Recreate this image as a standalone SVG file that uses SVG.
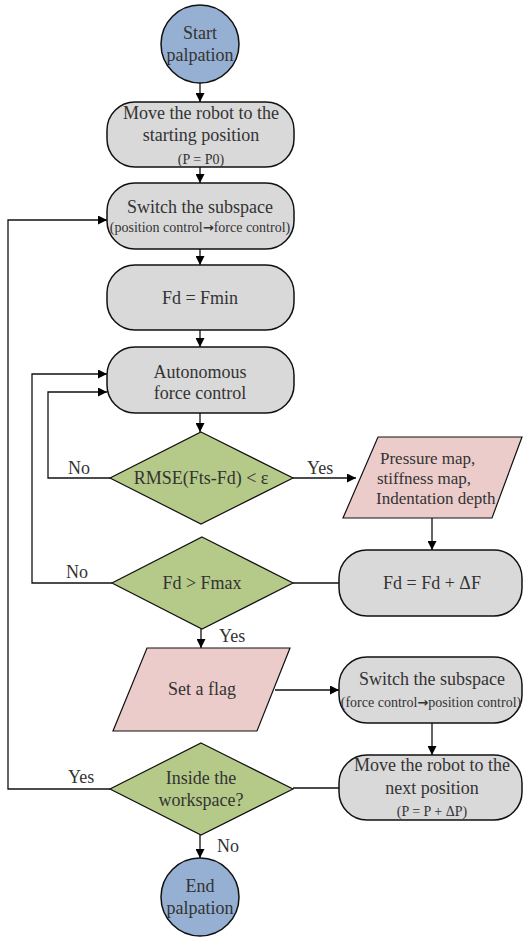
<svg xmlns="http://www.w3.org/2000/svg" width="528" height="940" viewBox="0 0 528 940" font-family="Liberation Serif, Times New Roman, serif">
<defs>
<marker id="ah" viewBox="0 0 10 10" refX="10" refY="5" markerWidth="9" markerHeight="9" markerUnits="userSpaceOnUse" orient="auto"><path d="M0,0 L10,5 L0,10 z" fill="#000"/></marker>
<style>
.t{font-family:'Liberation Serif','Times New Roman',serif;font-size:18px;fill:#333;text-anchor:middle}
.p{font-family:'Liberation Serif','Times New Roman',serif;font-size:17px;fill:#333}
.s{font-size:14px}
.m{font-size:14px}
.ar{font-family:'DejaVu Sans',sans-serif;font-weight:bold;font-size:13px}
.lb{font-family:'Liberation Serif','Times New Roman',serif;font-size:18px;fill:#333}
.circ{fill:#95b0d2;stroke:#111;stroke-width:1.5}
.box{fill:#d9d9d9;stroke:#111;stroke-width:1.5}
.dia{fill:#b5ca88;stroke:#111;stroke-width:1.2}
.par{fill:#ebcccb;stroke:#111;stroke-width:1.2}
.c{fill:none;stroke:#111;stroke-width:1.3}
.ca{fill:none;stroke:#111;stroke-width:1.3;marker-end:url(#ah)}
</style>
</defs>
<rect width="528" height="940" fill="#fff"/>
<g id="connectors">
<path class="ca" d="M200,83 V102"/>
<path class="ca" d="M200,167 V183"/>
<path class="ca" d="M200,249 V265"/>
<path class="ca" d="M200,330 V347"/>
<path class="ca" d="M200,413 V432"/>
<path class="ca" d="M110,478 H48 V392 H107"/>
<path class="ca" d="M293,478 H356"/>
<path class="ca" d="M432,518 V550"/>
<path class="c" d="M339,583 H293"/>
<path class="ca" d="M112,583 H32 V374 H107"/>
<path class="ca" d="M201,629 V648"/>
<path class="ca" d="M275,690 H339"/>
<path class="ca" d="M432,723 V755"/>
<path class="c" d="M339,788 H293"/>
<path class="ca" d="M110,789 H8 V220 H107"/>
<path class="ca" d="M200,835 V858"/>
<text class="lb" x="68" y="474">No</text>
<text class="lb" x="307" y="474">Yes</text>
<text class="lb" x="66" y="578">No</text>
<text class="lb" x="219" y="642">Yes</text>
<text class="lb" x="68" y="783">Yes</text>
<text class="lb" x="217" y="852">No</text>
</g>
<g id="start">
<circle class="circ" cx="200" cy="44" r="39"/>
<text class="t" x="200" y="39">Start</text>
<text class="t" x="200" y="61">palpation</text>
</g>
<g id="move-start">
<rect class="box" x="107" y="102" width="187" height="65" rx="28"/>
<text class="t" x="201" y="119">Move the robot to the</text>
<text class="t" x="201" y="141">starting position</text>
<text class="t s" x="201" y="164">(P = P0)</text>
</g>
<g id="switch1">
<rect class="box" x="107" y="183" width="187" height="66" rx="28"/>
<text class="t" x="200" y="213">Switch the subspace</text>
<text class="t m" x="200" y="232">(position control<tspan class="ar">→</tspan>force control)</text>
</g>
<g id="fdmin">
<rect class="box" x="107" y="265" width="187" height="65" rx="28"/>
<text class="t" x="200" y="304">Fd = Fmin</text>
</g>
<g id="afc">
<rect class="box" x="107" y="347" width="187" height="66" rx="28"/>
<text class="t" x="200" y="378">Autonomous</text>
<text class="t" x="200" y="399">force control</text>
</g>
<g id="rmse">
<path class="dia" d="M201,432 L293,478 L201,524 L110,478 z"/>
<text class="t" x="201" y="484">RMSE(Fts-Fd) &lt; ε</text>
</g>
<g id="maps">
<path class="par" d="M378,437 H522 L492,518 H343 z"/>
<text class="p" x="380" y="464">Pressure map,</text>
<text class="p" x="377" y="484">stiffness map,</text>
<text class="p" x="376" y="504">Indentation depth</text>
</g>
<g id="fdinc">
<rect class="box" x="339" y="550" width="183" height="66" rx="28"/>
<text class="t" x="432" y="589">Fd = Fd + ΔF</text>
</g>
<g id="fdmax">
<path class="dia" d="M202,537 L293,583 L202,629 L112,583 z"/>
<text class="t" x="202" y="589">Fd &gt; Fmax</text>
</g>
<g id="flag">
<path class="par" d="M147,648 H290 L257,731 H113 z"/>
<text class="t" x="202" y="695">Set a flag</text>
</g>
<g id="switch2">
<rect class="box" x="339" y="657" width="183" height="66" rx="28"/>
<text class="t" x="432" y="685">Switch the subspace</text>
<text class="t m" x="431" y="707">(force control<tspan class="ar">→</tspan>position control)</text>
</g>
<g id="move-next">
<rect class="box" x="339" y="755" width="183" height="65" rx="28"/>
<text class="t" x="432" y="771">Move the robot to the</text>
<text class="t" x="432" y="794">next position</text>
<text class="t s" x="432" y="816">(P = P + ΔP)</text>
</g>
<g id="inside">
<path class="dia" d="M201,743 L293,789 L201,835 L110,789 z"/>
<text class="t" x="201" y="784">Inside the</text>
<text class="t" x="201" y="806">workspace?</text>
</g>
<g id="end">
<circle class="circ" cx="200" cy="897" r="39"/>
<text class="t" x="200" y="892">End</text>
<text class="t" x="200" y="914">palpation</text>
</g>
</svg>
